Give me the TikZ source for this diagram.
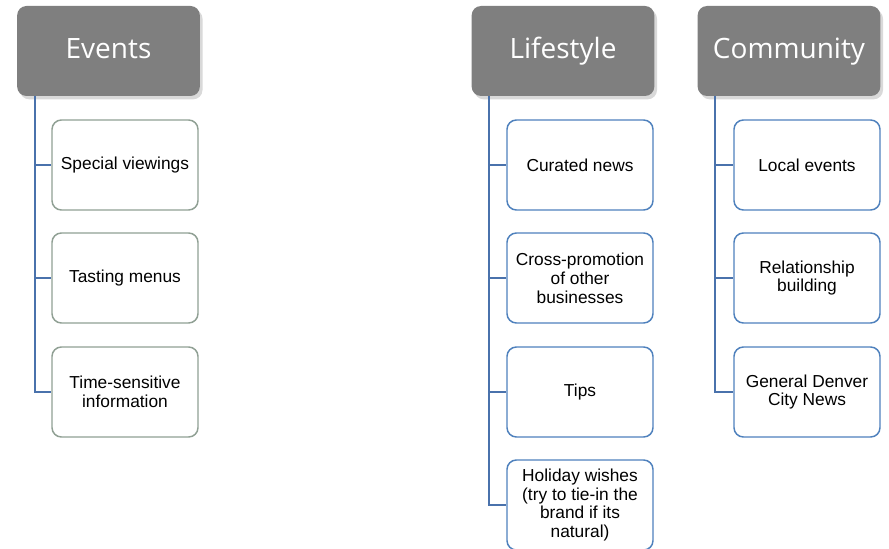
\documentclass[tikz,border=0pt]{standalone}
\usepackage{fontspec}
\setmainfont{Liberation Sans}
\newfontfamily\headfont{Open Sans}
\usetikzlibrary{shadows}

\definecolor{headgray}{HTML}{7F7F7F}
\definecolor{linkblue}{HTML}{4A72AC}
\definecolor{itemblue}{HTML}{4F81BD}
\definecolor{itemsage}{HTML}{90A094}

\begin{document}
\begin{tikzpicture}[
    x = 0.75pt, y = -0.75pt, % one unit per pixel, y downwards
    header/.style = {
        rounded corners = 7pt,
        fill = headgray,
        text = white,
        minimum width = 137pt,
        minimum height = 67.5pt,
        text height = 15pt,
        text depth = 4pt,
        font = \headfont\fontsize{21}{25}\selectfont,
        drop shadow = {shadow xshift=2pt, shadow yshift=-2.5pt, opacity=0.3}
        },
    item/.style = {
        draw = itemblue,
        line width = 1.1pt,
        rounded corners = 7pt,
        fill = white,
        minimum width = 109.5pt,
        minimum height = 67.5pt,
        align = center,
        font = \fontsize{13}{14.2}\selectfont
        },
    link/.style = {draw = linkblue, line width = 1.5pt}
    ]
    \useasboundingbox (0,0) rectangle (889,549);

    % Events
    \node[header] (ev) at (108.5,51) {Events};
    \node[item, draw=itemsage] (ev1) at (125,165) {Special viewings};
    \node[item, draw=itemsage] (ev2) at (125,278) {Tasting menus};
    \node[item, draw=itemsage] (ev3) at (125,392) {Time-sensitive\\information};

    % Lifestyle
    \node[header] (ls) at (563,51) {Lifestyle};
    \node[item] (ls1) at (580,165) {Curated news};
    \node[item] (ls2) at (580,278) {Cross-promotion\\of other\\businesses};
    \node[item] (ls3) at (580,392) {Tips};
    \node[item] (ls4) at (580,505) {Holiday wishes\\(try to tie-in the\\brand if its\\natural)};

    % Community
    \node[header] (cm) at (789,51) {Community};
    \node[item] (cm1) at (807,165) {Local events};
    \node[item] (cm2) at (807,278) {Relationship\\building};
    \node[item] (cm3) at (807,392) {General Denver\\City News};

    \foreach \h/\c in {ev/ev1, ev/ev2, ev/ev3, ls/ls1, ls/ls2, ls/ls3, ls/ls4,
                       cm/cm1, cm/cm2, cm/cm3}
        \draw[link] ([xshift=13.5pt]\h.south west) |- (\c.west);
\end{tikzpicture}
\end{document}
